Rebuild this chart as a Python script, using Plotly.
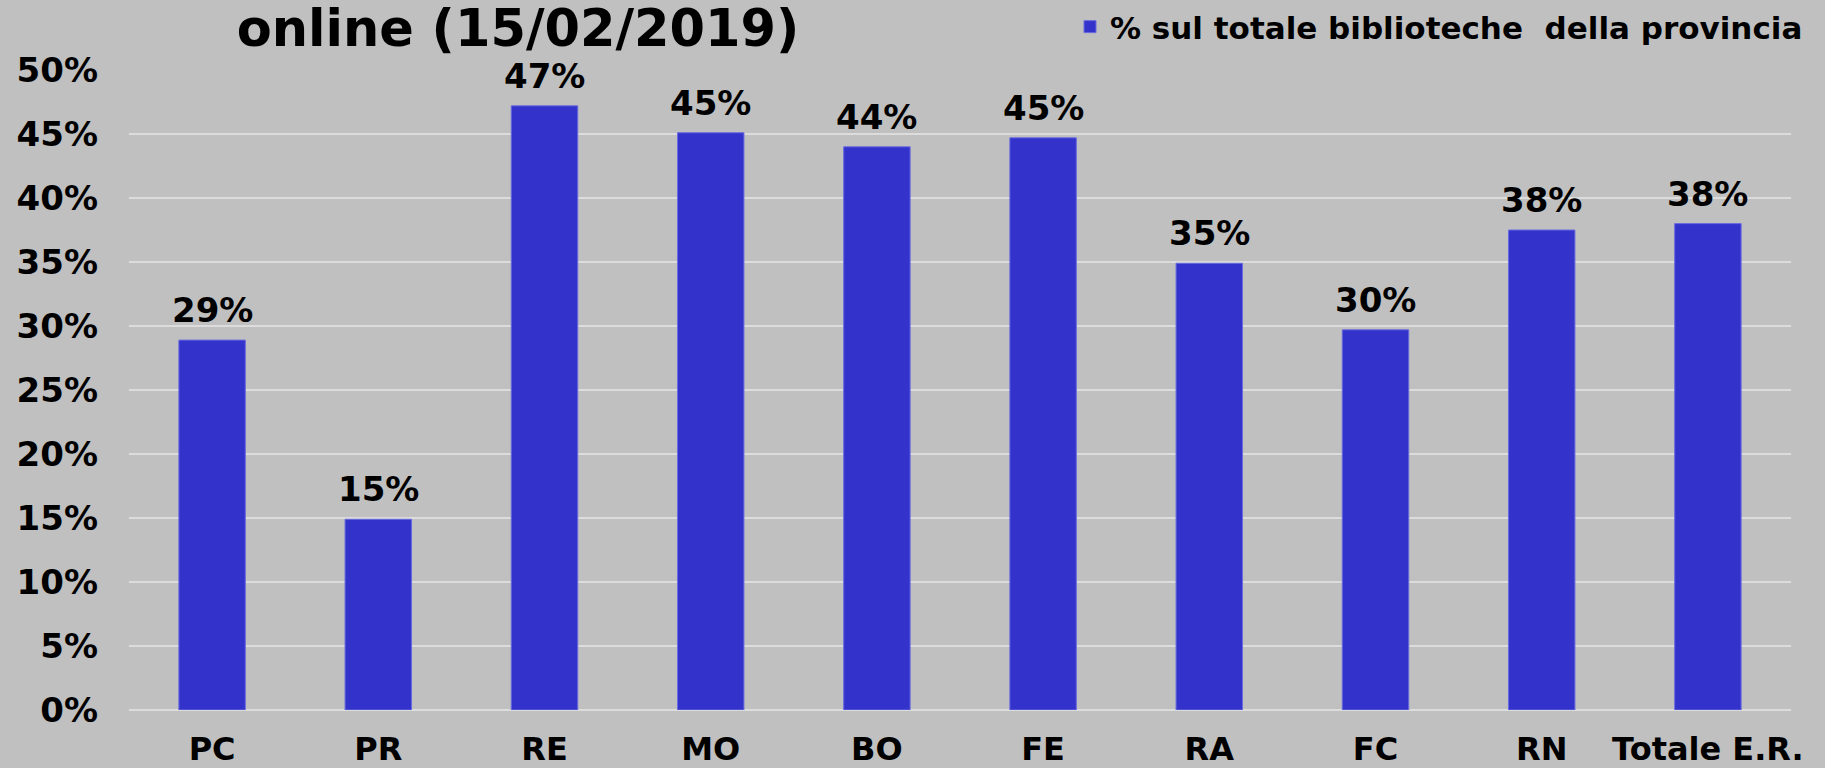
import plotly.graph_objects as go

categories = ["PC", "PR", "RE", "MO", "BO", "FE", "RA", "FC", "RN", "Totale E.R."]
values = [0.289, 0.149, 0.472, 0.451, 0.440, 0.447, 0.349, 0.297, 0.375, 0.380]
series_name = "% sul totale biblioteche  della provincia"
title_text = "online (15/02/2019)"

FONT = "DejaVu Sans"
BAR_COLOR = "#3333CC"
BG = "#C0C0C0"
GRID = "#DCDCDC"

fig = go.Figure()
fig.add_trace(go.Bar(
    x=categories,
    y=values,
    name=series_name,
    marker=dict(color=BAR_COLOR, line=dict(color="#6B6BE0", width=1)),
    width=0.4,
    showlegend=True,
))

for c, v in zip(categories, values):
    fig.add_annotation(
        x=c, y=v, xref="x", yref="y",
        text=f"{round(v * 100):d}%",
        showarrow=False, yanchor="bottom", yshift=8,
        font=dict(family=FONT, size=34, color="black", weight="bold"),
    )

fig.update_layout(
    width=1825, height=768,
    paper_bgcolor=BG, plot_bgcolor=BG,
    margin=dict(l=129, r=34, t=70, b=58, pad=0, autoexpand=False),
    title=dict(
        text=title_text,
        font=dict(family=FONT, size=51, color="black", weight="bold"),
        x=518 / 1825, xanchor="center", xref="container",
        y=1 - 10 / 768, yanchor="top", yref="container",
        pad=dict(t=0, b=0, l=0, r=0),
    ),
    legend=dict(
        x=1070 / 1825, xanchor="left", xref="container",
        y=1.0, yanchor="top", yref="container",
        bgcolor="rgba(0,0,0,0)",
        font=dict(family=FONT, size=31, color="black", weight="bold"),
    ),
    bargap=0.6,
    xaxis=dict(
        tickfont=dict(family=FONT, size=32, color="black", weight="bold"),
        showgrid=False, zeroline=False, showline=False,
        ticks="", ticklabelstandoff=17, tickangle=0,
    ),
    yaxis=dict(
        range=[0, 0.5], dtick=0.05, tickformat=".0%",
        tickfont=dict(family=FONT, size=34, color="black", weight="bold"),
        showgrid=True, gridcolor=GRID, gridwidth=2,
        zeroline=True, zerolinecolor=GRID, zerolinewidth=2,
        showline=False, ticks="", ticklabelstandoff=30,
    ),
)

fig.write_html(
    "out.html",
    config={"displayModeBar": False},
    post_script="document.body.style.margin='0';document.body.style.overflow='hidden';",
)
